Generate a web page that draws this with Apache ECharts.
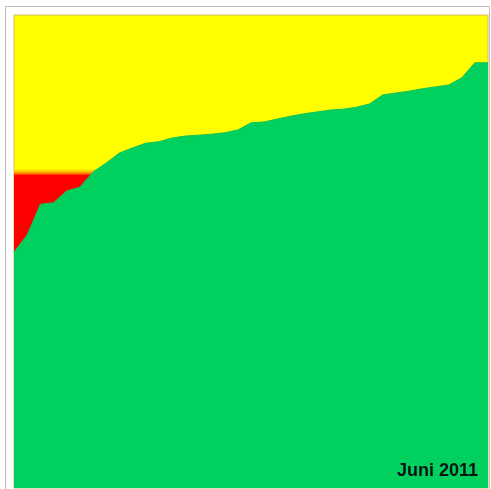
<!DOCTYPE html>
<html>
<head>
<meta charset="utf-8">
<script src="https://cdn.jsdelivr.net/npm/echarts@6/dist/echarts.min.js"></script>
<style>
html,body{margin:0;padding:0;background:#fff;}
#chart{width:491px;height:489px;}
</style>
</head>
<body>
<div id="chart"></div>
<script>
// Data (values as % of axis height)
const steps = Array.from({length: 37}, (_, i) => String(i + 1));
const greenValues = [49.9, 53.5, 60.0, 60.3, 62.8, 63.6, 66.8, 68.7, 70.8, 71.9,
  72.9, 73.2, 74.0, 74.4, 74.6, 74.8, 75.1, 75.7, 77.2, 77.4,
  78.0, 78.6, 79.1, 79.5, 79.9, 80.1, 80.5, 81.2, 83.1, 83.5,
  83.9, 84.4, 84.8, 85.2, 86.7, 89.9, 89.9];
const thresholdValues = steps.map(() => 67.4);
const labelText = 'Juni 2011';

const chart = echarts.init(document.getElementById('chart'));
chart.setOption({
  animation: false,
  grid: {
    left: 14, right: 3, top: 15, bottom: 1,
    show: true, backgroundColor: '#ffff00', borderColor: '#d8b868', borderWidth: 1
  },
  xAxis: {
    type: 'category', data: steps, boundaryGap: false, show: false
  },
  yAxis: {
    type: 'value', min: 0, max: 100, show: false, splitLine: {show: false}
  },
  series: [
    {
      type: 'line', data: thresholdValues, symbol: 'none', silent: true,
      lineStyle: {width: 0},
      areaStyle: {
        opacity: 1,
        color: new echarts.graphic.LinearGradient(0, 0, 0, 1, [
          {offset: 0, color: '#fff000'},
          {offset: 0.008, color: '#ffc000'},
          {offset: 0.014, color: '#ff7000'},
          {offset: 0.02, color: '#ff0000'},
          {offset: 1, color: '#ff0000'}
        ])
      },
      z: 2
    },
    {
      type: 'line', data: greenValues, symbol: 'none', silent: true,
      lineStyle: {width: 1, color: '#10c458'},
      areaStyle: {opacity: 1, color: '#00d05e'},
      z: 3
    }
  ],
  graphic: [
    {
      type: 'rect', silent: true, z: 0,
      shape: {x: 5.5, y: 6.5, width: 484, height: 490},
      style: {fill: 'none', stroke: '#bdbdbd', lineWidth: 1}
    },
    {
      type: 'text', silent: true, z: 10,
      x: 478, y: 471,
      style: {
        text: labelText, fill: '#111', textAlign: 'right', textVerticalAlign: 'middle',
        font: 'bold 18px "Liberation Sans", Arial, sans-serif'
      }
    }
  ]
});
</script>
</body>
</html>
